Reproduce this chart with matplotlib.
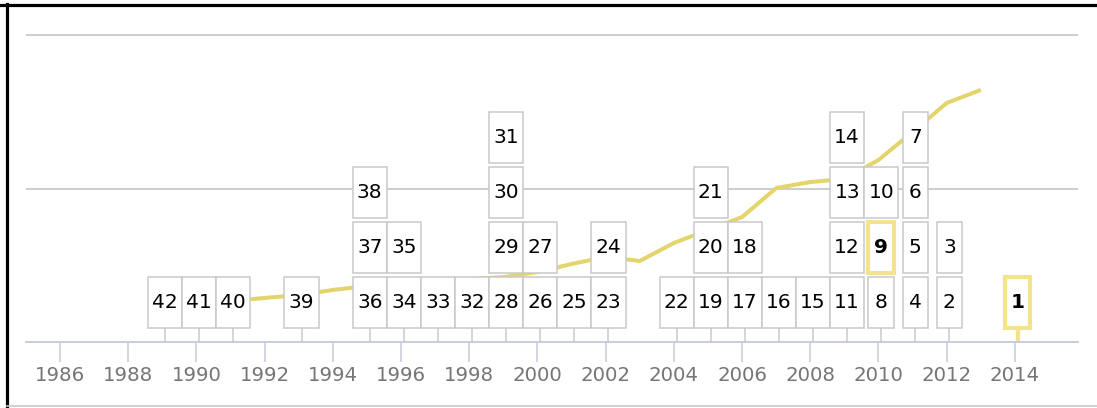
import matplotlib
matplotlib.use("Agg")
import matplotlib.pyplot as plt
from matplotlib.patches import Rectangle
from matplotlib.lines import Line2D

# columns of numbered boxes, bottom to top
years = [1989, 1990, 1991, 1993, 1995, 1996, 1997, 1998, 1999, 2000, 2001,
         2002, 2004, 2005, 2006, 2007, 2008, 2009, 2010, 2011, 2012, 2014]
stacks = [[42], [41], [40], [39], [36, 37, 38], [34, 35], [33], [32],
          [28, 29, 30, 31], [26, 27], [25], [23, 24], [22], [19, 20, 21],
          [17, 18], [16], [15], [11, 12, 13, 14], [8, 9, 10], [4, 5, 6, 7],
          [2, 3], [1]]
highlight = [9, 1]

# yellow trend line
line_years = [1991, 1992, 1993, 1994, 1995, 1996, 1997, 1998, 1999, 2000,
              2001, 2002, 2003, 2004, 2005, 2006, 2007, 2008, 2009, 2010,
              2011, 2012, 2013]
line_values = [0.267, 0.287, 0.306, 0.339, 0.365, 0.384, 0.397, 0.410, 0.423,
               0.456, 0.508, 0.554, 0.528, 0.645, 0.730, 0.814, 1.003, 1.042,
               1.062, 1.186, 1.368, 1.557, 1.642]

tick_years = list(range(1986, 2015, 2))

W, H = 1097, 408
PX_X = 34.1      # pixels per year
PX_Y = 153.5     # pixels per y unit
X0, X1 = 1985.0, 2015.85
Y1 = 2.16

YELLOW = "#e3d56c"
HL = "#f2e38c"
EDGE = "#c9c9c9"
AXIS = "#c3cad9"

fig = plt.figure(figsize=(W / 100, H / 100), dpi=100)
ax_bottom = (H - 342) / H
ax = fig.add_axes([26 / W, ax_bottom, (X1 - X0) * PX_X / W, Y1 * PX_Y / H])
ax.set_xlim(X0, X1)
ax.set_ylim(0, Y1)

for s in ["top", "right", "left"]:
    ax.spines[s].set_visible(False)
ax.spines["bottom"].set_color(AXIS)
ax.spines["bottom"].set_linewidth(1.3)
ax.set_yticks([1, 2])
ax.set_yticklabels([])
ax.tick_params(axis="y", length=0)
ax.grid(axis="y", color="#c4c4c4", lw=1.2, zorder=0)
ax.set_axisbelow(True)

ax.set_xticks(tick_years)
ax.set_xticklabels([str(y) for y in tick_years])
ax.tick_params(axis="x", length=14.4, width=1.1, color=AXIS, pad=3,
               labelsize=14.2, labelcolor="#767676", direction="out")

ax.plot(line_years, line_values, color=YELLOW, lw=2.9, zorder=1,
        solid_capstyle="butt", solid_joinstyle="round")

base = 14 / PX_Y
step = 55 / PX_Y
box_h = 51 / PX_Y
for yr, stack in zip(years, stacks):
    xc = yr + 0.08
    hl_col = stack[0] in highlight
    ax.plot([xc, xc], [0, base], color=HL if hl_col else EDGE,
            lw=3 if hl_col else 1.1, zorder=2)
    for k, num in enumerate(stack):
        label = str(num)
        bw = (len(label) * 8.6 + 17) / PX_X
        y0 = base + k * step
        hl = num in highlight
        ax.add_patch(Rectangle((xc - bw / 2, y0), bw, box_h, facecolor="white",
                               edgecolor=HL if hl else EDGE,
                               lw=3 if hl else 1.1, zorder=4 if hl else 3))
        ax.text(xc, y0 + box_h / 2, label, ha="center", va="center",
                fontsize=14.5, color="black",
                fontweight="bold" if hl else "normal", zorder=5)

# frame of the picture
fig.add_artist(Line2D([0, 1], [1 - 5 / H, 1 - 5 / H], color="black", lw=2.3))
fig.add_artist(Line2D([7 / W, 7 / W], [0, 1 - 4 / H], color="black", lw=2.3))
fig.add_artist(Line2D([7 / W, 1], [2 / H, 2 / H], color="#c8c8c8", lw=1.2))

fig.savefig("out.png", dpi=100)
